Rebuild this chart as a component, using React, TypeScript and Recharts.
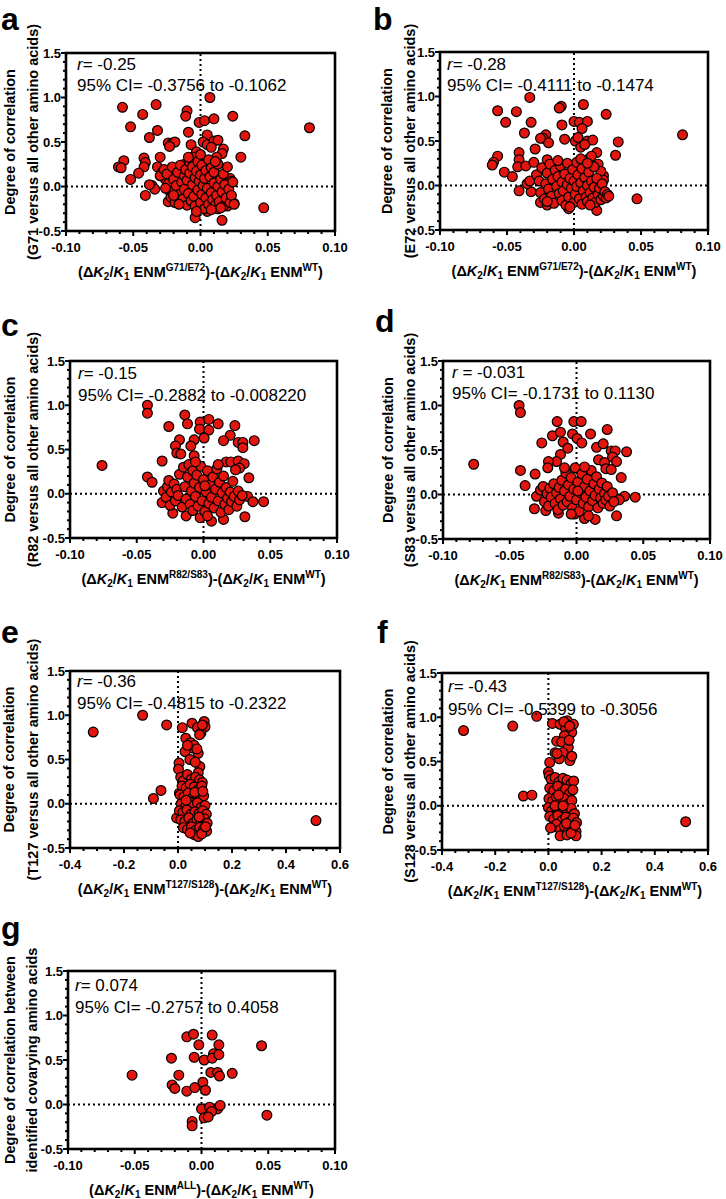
import React from 'react';
import { ScatterChart, Scatter, XAxis, YAxis, ReferenceLine } from 'recharts';

type Pt = [number, number];

// G71 / E72 swap
const pointsA: Pt[] = [
  [0.007, 1.0], [-0.058, 0.89], [-0.033, 0.92], [-0.01, 0.85], [-0.011, 0.79], [-0.043, 0.81], [-0.052, 0.67],
  [-0.032, 0.63], [-0.038, 0.55], [-0.001, 0.72], [0.003, 0.74], [0.01, 0.76], [0.024, 0.79], [0.081, 0.66],
  [-0.009, 0.61], [0.005, 0.58], [0.033, 0.57], [-0.024, 0.49], [-0.021, 0.49], [-0.019, 0.5], [-0.023, 0.45],
  [-0.007, 0.47], [0.002, 0.5], [0.005, 0.47], [0.01, 0.51], [0.013, 0.52], [0.008, 0.44], [0.017, 0.42],
  [0.016, 0.37], [0.012, 0.33], [0.03, 0.33], [-0.057, 0.29], [-0.061, 0.22], [-0.059, 0.21], [-0.052, 0.08],
  [-0.042, 0.32], [-0.041, 0.27], [-0.042, 0.22], [-0.03, 0.33], [-0.046, 0.15], [0.047, -0.24], [0.016, -0.38],
  [-0.004, -0.35], [-0.041, -0.1], [0.022, 0.09], [0.023, 0.06], [-0.036, 0.01], [-0.034, -0.03], [-0.038, 0.02],
  [-0.032, 0.22], [-0.028, 0.17], [-0.026, 0.08], [-0.024, -0.17], [-0.03, 0.12], [0.02, -0.22], [0.025, -0.19],
  [0.021, -0.14], [0.019, -0.08], [0.013, -0.25], [0.012, 0.04], [0.005, -0.28], [0.01, -0.05], [0.003, 0.2],
  [-0.003, 0.39], [0.002, 0.29], [-0.006, 0.33], [-0.012, 0.25], [-0.016, 0.2], [-0.02, 0.18], [-0.018, 0.1],
  [-0.027, 0.19], [-0.025, 0.14], [-0.024, 0.03], [-0.023, -0.05], [-0.022, -0.12], [-0.021, 0.22], [-0.02, 0.08],
  [-0.019, -0.18], [-0.018, 0.01], [-0.017, 0.16], [-0.016, -0.09], [-0.015, 0.24], [-0.014, 0.05], [-0.013, -0.14],
  [-0.012, 0.12], [-0.012, -0.03], [-0.011, 0.19], [-0.01, -0.21], [-0.01, 0.07], [-0.009, -0.08], [-0.008, 0.15],
  [-0.008, 0.27], [-0.007, -0.16], [-0.006, 0.02], [-0.006, 0.22], [-0.005, -0.11], [-0.004, 0.1], [-0.004, -0.22],
  [-0.003, 0.17], [-0.002, -0.04], [-0.002, 0.28], [-0.001, 0.06], [0.0, -0.18], [0.0, 0.13], [0.001, -0.09],
  [0.001, 0.24], [0.002, 0.01], [0.003, -0.25], [0.003, 0.09], [0.004, -0.13], [0.004, 0.18], [0.005, -0.02],
  [0.006, 0.3], [0.006, -0.2], [0.007, 0.11], [0.008, -0.07], [0.008, 0.21], [0.009, -0.15], [0.01, 0.04],
  [0.01, 0.16], [0.011, -0.21], [0.012, -0.1], [0.013, 0.25], [0.013, 0.0], [0.014, -0.17], [0.015, 0.08],
  [0.016, -0.06], [0.017, 0.14], [0.017, -0.22], [0.018, 0.02], [0.019, -0.13], [0.02, 0.22], [0.021, -0.03],
  [0.022, -0.18], [0.023, -0.1], [0.024, 0.05], [0.025, -0.2], [0.015, -0.24], [-0.016, -0.2], [-0.02, -0.1],
  [-0.026, -0.02], [-0.003, -0.28], [0.008, -0.26], [0.011, 0.28], [-0.009, 0.33], [0.0, 0.36],
];

const pointsB: Pt[] = [
  [-0.033, 0.99], [-0.057, 0.84], [-0.043, 0.83], [-0.0095, 0.89], [-0.011, 0.87], [-0.051, 0.71], [-0.032, 0.71],
  [0.007, 0.91], [0.0, 0.72], [0.004, 0.71], [0.01, 0.72], [0.024, 0.8], [-0.009, 0.68], [0.006, 0.64],
  [-0.037, 0.59], [0.081, 0.57], [0.033, 0.49], [0.031, 0.34], [-0.021, 0.57], [-0.023, 0.53], [-0.019, 0.48],
  [-0.025, 0.53], [-0.007, 0.52], [0.001, 0.5], [0.003, 0.54], [0.01, 0.5], [0.014, 0.51], [0.005, 0.43],
  [0.008, 0.46], [0.017, 0.37], [0.011, 0.3], [-0.057, 0.33], [-0.06, 0.26], [-0.061, 0.23], [-0.052, 0.15],
  [-0.046, 0.1], [-0.041, 0.37], [-0.041, 0.29], [-0.042, 0.21], [-0.029, 0.41], [-0.041, -0.06], [-0.032, -0.07],
  [0.047, -0.15], [0.017, -0.28], [-0.004, -0.26], [-0.025, -0.19], [0.022, 0.11], [0.022, 0.06], [-0.02, -0.22],
  [-0.035, 0.02], [-0.033, 0.05], [-0.036, 0.22], [-0.03, 0.26], [-0.02, 0.29], [0.018, 0.24], [0.013, 0.33],
  [0.02, 0.16], [-0.028, 0.12], [-0.026, 0.05], [-0.025, -0.08], [-0.024, 0.2], [-0.022, -0.15], [-0.021, 0.02],
  [-0.02, 0.14], [-0.019, -0.04], [-0.018, 0.24], [-0.017, -0.12], [-0.016, 0.07], [-0.015, -0.2], [-0.014, 0.17],
  [-0.013, -0.01], [-0.012, 0.1], [-0.011, -0.09], [-0.01, 0.22], [-0.009, -0.17], [-0.009, 0.04], [-0.008, -0.06],
  [-0.007, 0.13], [-0.006, -0.22], [-0.005, 0.01], [-0.005, 0.25], [-0.004, -0.13], [-0.003, 0.08], [-0.002, -0.03],
  [-0.001, 0.18], [0.0, -0.19], [0.0, 0.05], [0.001, -0.1], [0.002, 0.26], [0.002, -0.01], [0.003, 0.12],
  [0.004, -0.15], [0.005, 0.03], [0.006, -0.21], [0.006, 0.19], [0.007, -0.06], [0.008, 0.09], [0.009, -0.13],
  [0.01, 0.0], [0.01, -0.18], [0.011, 0.15], [0.012, -0.08], [0.013, 0.05], [0.014, -0.14], [0.015, -0.02],
  [0.015, 0.21], [0.016, -0.19], [0.017, 0.08], [0.018, -0.1], [0.019, -0.03], [0.02, -0.16], [0.021, 0.02],
  [0.022, -0.12], [0.023, -0.07], [0.024, -0.14], [0.025, -0.1], [0.026, -0.12], [0.012, -0.22], [-0.003, -0.24],
  [-0.02, -0.18], [0.005, 0.3], [-0.012, 0.28], [0.01, 0.25],
];

// R82 / S83 swap
const pointsC: Pt[] = [
  [-0.042, 1.0], [-0.042, 0.91], [-0.076, 0.32], [-0.014, 0.89], [-0.012, 0.79], [-0.026, 0.76], [-0.0025, 0.81],
  [0.004, 0.84], [-0.003, 0.73], [0.004, 0.72], [0.011, 0.79], [0.0235, 0.77], [0.02, 0.66], [0.0005, 0.63],
  [-0.007, 0.61], [-0.018, 0.61], [-0.021, 0.54], [-0.02, 0.46], [-0.017, 0.45], [-0.0095, 0.54], [0.015, 0.6],
  [0.026, 0.58], [0.0295, 0.58], [0.0295, 0.52], [0.038, 0.6], [-0.007, 0.43], [-0.031, 0.37], [-0.042, 0.19],
  [-0.0385, 0.13], [0.017, 0.36], [0.0205, 0.36], [0.026, 0.37], [0.0305, 0.34], [0.027, 0.29], [0.024, 0.27],
  [0.034, 0.18], [0.045, -0.09], [0.031, -0.26], [-0.023, -0.22], [-0.013, -0.25], [-0.0025, -0.27], [0.006, -0.31],
  [0.015, -0.29], [-0.03, 0.03], [-0.031, -0.1], [0.033, -0.03], [0.037, -0.09], [-0.028, -0.04], [-0.027, 0.08],
  [-0.026, 0.15], [-0.025, -0.13], [-0.024, 0.02], [-0.022, 0.11], [-0.021, -0.08], [-0.02, 0.05], [-0.019, -0.02],
  [-0.018, 0.22], [-0.016, -0.15], [-0.015, 0.3], [-0.014, 0.08], [-0.013, -0.06], [-0.012, 0.19], [-0.011, 0.33],
  [-0.01, -0.12], [-0.009, 0.03], [-0.008, 0.26], [-0.008, -0.19], [-0.007, 0.12], [-0.006, -0.03], [-0.005, 0.21],
  [-0.004, -0.14], [-0.003, 0.07], [-0.002, 0.31], [-0.001, -0.08], [0.0, 0.16], [0.001, -0.2], [0.002, 0.02],
  [0.003, 0.26], [0.004, -0.11], [0.005, 0.1], [0.006, -0.04], [0.007, 0.19], [0.008, -0.16], [0.009, 0.05],
  [0.01, 0.28], [0.011, -0.08], [0.012, 0.13], [0.013, -0.21], [0.014, 0.01], [0.015, 0.2], [0.016, -0.12],
  [0.017, 0.07], [0.018, -0.05], [0.019, -0.18], [0.02, 0.02], [0.021, -0.09], [0.022, 0.14], [0.023, -0.03],
  [0.025, -0.14], [0.026, 0.03], [0.027, -0.07], [0.029, -0.02], [0.003, -0.25], [-0.006, 0.36], [0.011, 0.33],
  [0.001, 0.09],
];

const pointsD: Pt[] = [
  [-0.043, 1.0], [-0.042, 0.92], [-0.077, 0.34], [-0.0145, 0.82], [-0.002, 0.82], [0.0035, 0.82], [0.023, 0.73],
  [-0.018, 0.66], [-0.012, 0.7], [-0.003, 0.68], [0.0005, 0.63], [0.004, 0.58], [0.0105, 0.68], [-0.026, 0.58],
  [-0.01, 0.59], [-0.0065, 0.52], [0.015, 0.53], [0.02, 0.57], [0.026, 0.49], [0.029, 0.49], [0.0375, 0.48],
  [0.027, 0.42], [0.03, 0.37], [-0.012, 0.45], [-0.015, 0.37], [-0.021, 0.37], [-0.0215, 0.3], [0.0165, 0.39],
  [0.021, 0.36], [0.022, 0.29], [0.026, 0.28], [-0.042, 0.27], [-0.031, 0.23], [-0.0385, 0.1], [0.0335, 0.19],
  [0.044, -0.03], [0.03, -0.24], [-0.0315, -0.16], [-0.023, -0.18], [-0.0135, -0.21], [0.014, -0.28], [0.006, -0.27],
  [-0.0015, -0.22], [0.036, -0.02], [0.032, -0.06], [-0.03, -0.02], [-0.027, 0.05], [-0.025, 0.09], [-0.024, -0.08],
  [-0.022, 0.01], [-0.021, -0.13], [-0.02, 0.07], [-0.019, -0.03], [-0.017, 0.12], [-0.016, -0.1], [-0.015, 0.02],
  [-0.014, -0.17], [-0.013, 0.08], [-0.012, -0.05], [-0.011, 0.16], [-0.01, -0.12], [-0.009, 0.04], [-0.008, 0.24],
  [-0.007, -0.08], [-0.006, 0.11], [-0.005, -0.02], [-0.004, 0.19], [-0.003, -0.15], [-0.002, 0.06], [-0.001, 0.3],
  [0.0, -0.06], [0.001, 0.14], [0.002, -0.19], [0.003, 0.02], [0.004, 0.23], [0.005, -0.1], [0.006, 0.09],
  [0.007, -0.03], [0.008, 0.17], [0.009, -0.14], [0.01, 0.04], [0.011, 0.27], [0.012, -0.07], [0.013, 0.12],
  [0.014, -0.01], [0.015, 0.2], [0.016, -0.15], [0.017, 0.06], [0.018, -0.04], [0.019, 0.13], [0.02, -0.1],
  [0.021, 0.01], [0.022, -0.06], [0.023, 0.09], [0.024, -0.02], [0.025, -0.13], [0.027, 0.02], [0.028, -0.08],
  [0.006, 0.31], [-0.004, -0.22], [0.009, -0.24], [0.001, 0.04], [-0.009, 0.3],
];

// T127 / S128 swap
const pointsE: Pt[] = [
  [-0.314, 0.81], [-0.131, 1.0], [-0.042, 0.89], [-0.063, 0.15], [-0.091, 0.06], [0.511, -0.19],
  [0.016, 0.86], [0.052, 0.91], [0.072, 0.86], [0.097, 0.93], [0.1, 0.87], [0.085, 0.8], [0.029, 0.74],
  [0.047, 0.69], [0.054, 0.63], [0.026, 0.59], [0.075, 0.57], [0.044, 0.5], [0.081, 0.42], [0.004, 0.46],
  [0.002, 0.39], [0.09, 0.89], [0.08, 0.78], [0.06, 0.66], [0.07, 0.62], [0.035, 0.66], [0.064, 0.47],
  [0.075, 0.35], [-0.005, -0.16], [0.005, 0.12], [0.01, 0.3], [0.02, 0.26], [0.035, 0.33], [0.05, 0.28],
  [0.065, 0.3], [0.08, 0.27], [0.09, 0.24], [0.015, 0.2], [0.03, 0.18], [0.045, 0.22], [0.06, 0.19],
  [0.075, 0.16], [0.088, 0.2], [0.008, 0.1], [0.022, 0.08], [0.038, 0.12], [0.052, 0.06], [0.068, 0.1],
  [0.082, 0.05], [0.095, 0.09], [0.012, 0.0], [0.028, -0.03], [0.042, 0.02], [0.057, -0.02], [0.072, 0.01],
  [0.086, -0.04], [0.1, -0.02], [0.005, -0.08], [0.018, -0.1], [0.033, -0.07], [0.048, -0.12], [0.063, -0.09],
  [0.078, -0.11], [0.092, -0.08], [0.105, -0.12], [0.01, -0.18], [0.025, -0.2], [0.04, -0.16], [0.055, -0.22],
  [0.07, -0.18], [0.085, -0.21], [0.098, -0.17], [0.108, -0.22], [0.02, -0.27], [0.035, -0.29], [0.05, -0.26],
  [0.065, -0.3], [0.08, -0.27], [0.095, -0.29], [0.106, -0.31], [0.06, -0.35], [0.075, -0.37], [0.088, -0.34],
  [0.045, -0.33], [0.102, -0.26], [0.03, 0.04], [0.062, 0.13], [0.078, -0.15], [0.092, 0.14],
];

const pointsF: Pt[] = [
  [-0.319, 0.85], [-0.134, 0.9], [-0.044, 1.01], [-0.094, 0.11], [-0.062, 0.12], [0.516, -0.18],
  [0.015, 0.93], [0.044, 0.92], [0.071, 0.96], [0.094, 0.92], [0.088, 0.83], [0.065, 0.87], [0.06, 0.79],
  [0.031, 0.73], [0.05, 0.72], [0.075, 0.66], [0.025, 0.6], [0.054, 0.6], [0.041, 0.53], [0.081, 0.51],
  [0.088, 0.56], [0.005, 0.49], [0.0, 0.38], [0.003, 0.34], [0.058, 0.95], [0.08, 0.9], [0.078, 0.74],
  [0.032, 0.59], [0.01, 0.3], [0.025, 0.32], [0.04, 0.27], [0.055, 0.31], [0.07, 0.29], [0.085, 0.25],
  [0.095, 0.28], [0.005, 0.2], [0.02, 0.17], [0.035, 0.22], [0.05, 0.15], [0.065, 0.19], [0.08, 0.14],
  [0.092, 0.18], [0.002, 0.08], [0.015, 0.05], [0.03, 0.1], [0.045, 0.04], [0.06, 0.08], [0.075, 0.02],
  [0.088, 0.06], [0.0, -0.02], [0.012, -0.06], [0.028, -0.02], [0.042, -0.08], [0.058, -0.04], [0.072, -0.07],
  [0.086, -0.03], [0.098, -0.09], [0.005, -0.12], [0.02, -0.15], [0.035, -0.11], [0.05, -0.17], [0.065, -0.13],
  [0.08, -0.18], [0.094, -0.14], [0.106, -0.19], [0.015, -0.24], [0.03, -0.21], [0.045, -0.27], [0.06, -0.23],
  [0.075, -0.28], [0.09, -0.25], [0.104, -0.29], [0.044, -0.34], [0.07, -0.33], [0.104, -0.34], [0.085, -0.31],
  [0.025, 0.0], [0.055, 0.0], [0.068, -0.2], [0.1, -0.22], [0.038, 0.12], [0.008, -0.25],
];

// all identified covarying amino acids
const pointsG: Pt[] = [
  [-0.052, 0.33], [-0.011, 0.76], [-0.006, 0.79], [0.008, 0.78], [-0.002, 0.67], [0.013, 0.67], [0.045, 0.66],
  [-0.0225, 0.52], [-0.0055, 0.53], [0.002, 0.5], [0.009, 0.57], [0.008, 0.52], [0.013, 0.56], [-0.017, 0.33],
  [0.007, 0.36], [0.012, 0.36], [0.0135, 0.32], [0.023, 0.35], [-0.022, 0.22], [-0.02, 0.18], [-0.011, 0.15],
  [-0.005, 0.19], [0.001, 0.25], [0.003, 0.16], [0.0, -0.05], [0.006, -0.03], [0.012, -0.05], [0.014, -0.01],
  [0.0075, -0.08], [0.002, -0.15], [0.005, -0.14], [-0.007, -0.19], [-0.007, -0.24], [0.049, -0.12],
];

const yMajor = [-0.5, 0, 0.5, 1.0, 1.5];
const yMajorLabels = ['-0.5', '0.0', '0.5', '1.0', '1.5'];
const xMajorNarrow = [-0.1, -0.05, 0, 0.05, 0.1];
const xLabelsNarrow = ['-0.10', '-0.05', '0.00', '0.05', '0.10'];
const xMajorWide = [-0.4, -0.2, 0, 0.2, 0.4, 0.6];
const xLabelsWide = ['-0.4', '-0.2', '0.0', '0.2', '0.4', '0.6'];

const FONT = '"Liberation Sans", Arial, Helvetica, sans-serif';
const RED = '#e3150f';
const AXIS_W = 30;
const AXIS_H = 30;

// major ticks plus evenly spaced minor ticks between them
const withMinor = (majors: number[], parts: number) => {
  const out: number[] = [];
  majors.forEach((m, i) => {
    out.push(m);
    if (i < majors.length - 1) {
      const step = (majors[i + 1] - m) / parts;
      for (let k = 1; k < parts; k++) out.push(m + step * k);
    }
  });
  return out;
};

const findMajor = (majors: number[], v: number) => majors.findIndex((m) => Math.abs(m - v) < 1e-6);

const makeXTick = (majors: number[], labels: string[]) => (props: any) => {
  const { x, y, payload } = props;
  const idx = findMajor(majors, payload.value);
  return (
    <g>
      <line x1={x} x2={x} y1={y} y2={y + (idx >= 0 ? 5 : 3)} stroke="#000" strokeWidth={2} />
      {idx >= 0 && (
        <text x={x} y={y + 21} textAnchor="middle" fontSize={13} fontWeight="bold" fontFamily={FONT} fill="#000">
          {labels[idx]}
        </text>
      )}
    </g>
  );
};

const makeYTick = (majors: number[], labels: string[]) => (props: any) => {
  const { x, y, payload } = props;
  const idx = findMajor(majors, payload.value);
  return (
    <g>
      <line x1={x - (idx >= 0 ? 5 : 3)} x2={x} y1={y} y2={y} stroke="#000" strokeWidth={2} />
      {idx >= 0 && (
        <text x={x - 5} y={y + 4.5} textAnchor="end" fontSize={13} fontWeight="bold" fontFamily={FONT} fill="#000">
          {labels[idx]}
        </text>
      )}
    </g>
  );
};

const Dot = (props: any) => (
  <circle cx={props.cx} cy={props.cy} r={4.9} fill={RED} stroke="#000" strokeWidth={1.2} />
);

interface PanelCfg {
  letter: string;
  ox: number; oy: number;
  L: number; R: number; T: number; B: number;
  letterX: number; letterY: number;
  yTitleX: [number, number];
  yTitle: [string, string];
  sup: string;
  annX: number; annY: [number, number];
  rText: string; ciText: string;
  wide: boolean;
  points: Pt[];
}

const panels: PanelCfg[] = [
  { letter: 'a', ox: 0, oy: 0, L: 66, R: 335, T: 53, B: 231, letterX: 1, letterY: 30, yTitleX: [10, 33],
    yTitle: ['Degree of correlation', '(G71 versus all other amino acids)'], sup: 'G71/E72',
    annX: 77, annY: [70, 91], rText: '= -0.25', ciText: '95% CI= -0.3756 to -0.1062', wide: false, points: pointsA },
  { letter: 'b', ox: 363, oy: 0, L: 440, R: 708, T: 52, B: 230, letterX: 373, letterY: 30, yTitleX: [387, 410],
    yTitle: ['Degree of correlation', '(E72 versus all other amino acids)'], sup: 'G71/E72',
    annX: 447, annY: [70, 91], rText: '= -0.28', ciText: '95% CI= -0.4111 to -0.1474', wide: false, points: pointsB },
  { letter: 'c', ox: 0, oy: 300, L: 70, R: 337, T: 361, B: 538, letterX: 1, letterY: 336, yTitleX: [10, 33],
    yTitle: ['Degree of correlation', '(R82 versus all other amino acids)'], sup: 'R82/S83',
    annX: 78, annY: [379, 401], rText: '= -0.15', ciText: '95% CI= -0.2882 to -0.008220', wide: false, points: pointsC },
  { letter: 'd', ox: 363, oy: 300, L: 443, R: 710, T: 361, B: 539, letterX: 375, letterY: 332, yTitleX: [388, 410],
    yTitle: ['Degree of correlation', '(S83 versus all other amino acids)'], sup: 'R82/S83',
    annX: 452, annY: [378, 399], rText: ' = -0.031', ciText: '95% CI= -0.1731 to 0.1130', wide: false, points: pointsD },
  { letter: 'e', ox: 0, oy: 600, L: 70, R: 340, T: 671, B: 848, letterX: 1, letterY: 643, yTitleX: [9, 33],
    yTitle: ['Degree of correlation', '(T127 versus all other amino acids)'], sup: 'T127/S128',
    annX: 77, annY: [687, 709], rText: '= -0.36', ciText: '95% CI= -0.4815 to -0.2322', wide: true, points: pointsE },
  { letter: 'f', ox: 363, oy: 600, L: 442, R: 708, T: 673, B: 850, letterX: 377, letterY: 643, yTitleX: [388, 410],
    yTitle: ['Degree of correlation', '(S128 versus all other amino acids)'], sup: 'T127/S128',
    annX: 448, annY: [692, 715], rText: '= -0.43', ciText: '95% CI= -0.5399 to -0.3056', wide: true, points: pointsF },
  { letter: 'g', ox: 0, oy: 900, L: 68, R: 335, T: 971, B: 1149, letterX: 1, letterY: 939, yTitleX: [10, 32],
    yTitle: ['Degree of correlation between', 'identified covarying amino acids'], sup: 'ALL',
    annX: 75, annY: [991, 1013], rText: '= 0.074', ciText: '95% CI= -0.2757 to 0.4058', wide: false, points: pointsG },
];

const PW = 363;
const PH = 300;

const Panel: React.FC<{ cfg: PanelCfg }> = ({ cfg }) => {
  const xMajor = cfg.wide ? xMajorWide : xMajorNarrow;
  const xLabels = cfg.wide ? xLabelsWide : xLabelsNarrow;
  const xTicks = withMinor(xMajor, cfg.wide ? 4 : 5);
  const yTicks = withMinor(yMajor, 5);
  const data = cfg.points.map(([x, y]) => ({ x, y }));
  const margin = {
    left: cfg.L - cfg.ox - AXIS_W,
    top: cfg.T - cfg.oy,
    right: cfg.ox + PW - cfg.R,
    bottom: cfg.oy + PH - cfg.B - AXIS_H,
  };
  return (
    <div style={{ position: 'absolute', left: cfg.ox, top: cfg.oy }}>
      <ScatterChart width={PW} height={PH} margin={margin}>
        <XAxis
          type="number"
          dataKey="x"
          domain={[xMajor[0], xMajor[xMajor.length - 1]]}
          ticks={xTicks}
          interval={0}
          height={AXIS_H}
          tickSize={0}
          tickMargin={0}
          axisLine={false}
          tickLine={false}
          allowDataOverflow
          tick={makeXTick(xMajor, xLabels)}
        />
        <YAxis
          type="number"
          dataKey="y"
          domain={[-0.5, 1.5]}
          ticks={yTicks}
          interval={0}
          width={AXIS_W}
          tickSize={0}
          tickMargin={0}
          axisLine={false}
          tickLine={false}
          allowDataOverflow
          tick={makeYTick(yMajor, yMajorLabels)}
        />
        <ReferenceLine x={0} stroke="#000" strokeWidth={2} strokeDasharray="2 3" />
        <ReferenceLine y={0} stroke="#000" strokeWidth={2} strokeDasharray="2 3" />
        <Scatter data={data} shape={Dot} isAnimationActive={false} />
      </ScatterChart>
    </div>
  );
};

const Texts: React.FC<{ cfg: PanelCfg }> = ({ cfg }) => {
  const cx = (cfg.L + cfg.R) / 2;
  const cy = (cfg.T + cfg.B) / 2;
  const ty = cfg.B + 46;
  return (
    <g fontFamily={FONT} fill="#000">
      <rect x={cfg.L} y={cfg.T} width={cfg.R - cfg.L} height={cfg.B - cfg.T} fill="none" stroke="#000" strokeWidth={2.6} />
      <text x={cfg.letterX} y={cfg.letterY} fontSize={32} fontWeight="bold">{cfg.letter}</text>
      {cfg.yTitle.map((line, i) => (
        <text
          key={i}
          x={cfg.yTitleX[i]}
          y={cy}
          transform={`rotate(-90 ${cfg.yTitleX[i]} ${cy})`}
          textAnchor="middle"
          dominantBaseline="central"
          fontSize={14.5}
          fontWeight="bold"
        >
          {line}
        </text>
      ))}
      <text x={cx} y={ty} textAnchor="middle" fontSize={14.5} fontWeight="bold">
        <tspan>(Δ</tspan>
        <tspan fontStyle="italic">K</tspan>
        <tspan fontSize={10} dy={3}>2</tspan>
        <tspan dy={-3}>/</tspan>
        <tspan fontStyle="italic">K</tspan>
        <tspan fontSize={10} dy={3}>1</tspan>
        <tspan dy={-3}>{' ENM'}</tspan>
        <tspan fontSize={10} dy={-6}>{cfg.sup}</tspan>
        <tspan dy={6}>)-(Δ</tspan>
        <tspan fontStyle="italic">K</tspan>
        <tspan fontSize={10} dy={3}>2</tspan>
        <tspan dy={-3}>/</tspan>
        <tspan fontStyle="italic">K</tspan>
        <tspan fontSize={10} dy={3}>1</tspan>
        <tspan dy={-3}>{' ENM'}</tspan>
        <tspan fontSize={10} dy={-6}>WT</tspan>
        <tspan dy={6}>)</tspan>
      </text>
      <text x={cfg.annX} y={cfg.annY[0]} fontSize={17}>
        <tspan fontStyle="italic">r</tspan>
        <tspan>{cfg.rText}</tspan>
      </text>
      <text x={cfg.annX} y={cfg.annY[1]} fontSize={17}>{cfg.ciText}</text>
    </g>
  );
};

export default function App() {
  return (
    <div style={{ position: 'absolute', left: 0, top: 0, width: 726, height: 1199, background: '#fff' }}>
      {panels.map((p) => (
        <Panel key={p.letter} cfg={p} />
      ))}
      <svg width={726} height={1199} style={{ position: 'absolute', left: 0, top: 0, pointerEvents: 'none' }}>
        {panels.map((p) => (
          <Texts key={p.letter} cfg={p} />
        ))}
      </svg>
    </div>
  );
}
